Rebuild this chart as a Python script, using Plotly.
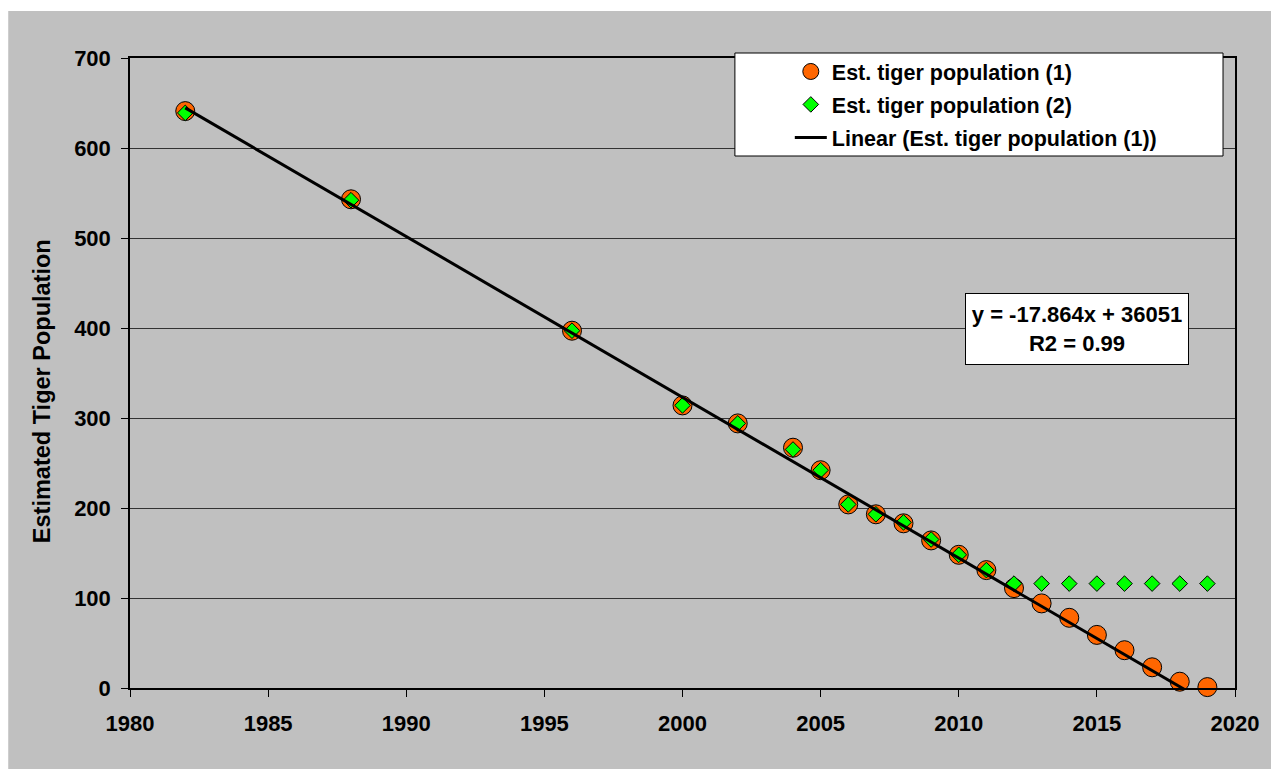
import plotly.graph_objects as go

# Survey years and estimated tiger counts
years = [1982, 1988, 1996, 2000, 2002, 2004, 2005, 2006, 2007, 2008, 2009,
         2010, 2011, 2012, 2013, 2014, 2015, 2016, 2017, 2018, 2019]
pop_est1 = [641, 543, 397, 314, 294, 267, 242, 204, 193, 183, 164,
            148, 131, 111, 94, 78, 59, 42, 23, 7, 1]
pop_est2 = [639, 542, 397, 314, 294, 265, 242, 204, 193, 184, 165,
            148, 131, 116, 116, 116, 116, 116, 116, 116, 116]

# Linear trend of series (1) as stated on the chart
trend_slope = -17.864
trend_intercept = 36051
trend_years = [years[0], years[-1]]
trend_values = [trend_slope * x + trend_intercept for x in trend_years]

x_ticks = [1980, 1985, 1990, 1995, 2000, 2005, 2010, 2015, 2020]
y_ticks = [0, 100, 200, 300, 400, 500, 600, 700]

FONT = "Liberation Sans, Arial, sans-serif"
GRAY = "#C0C0C0"

W, H = 1271, 769
ML, MR, MT, MB = 130, 34, 58, 81
PW, PH = W - ML - MR, H - MT - MB


def px_x(p):
    return (p - ML) / PW


def px_y(p):
    return (H - MB - p) / PH


fig = go.Figure()

fig.add_trace(go.Scatter(
    x=years, y=pop_est1, mode="markers", name="Est. tiger population (1)",
    legendgroup="a", cliponaxis=False,
    marker=dict(symbol="circle", size=19, color="#FF6600",
                line=dict(color="black", width=1)),
))
fig.add_trace(go.Scatter(
    x=years, y=pop_est2, mode="markers", name="Est. tiger population (2)",
    legendgroup="b", cliponaxis=False,
    marker=dict(symbol="diamond", size=12, color="#00FF00",
                line=dict(color="black", width=1)),
))
fig.add_trace(go.Scatter(
    x=trend_years, y=trend_values, mode="lines",
    name="Linear (Est. tiger population (1))", legendgroup="c",
    line=dict(color="black", width=3),
))

axis_font = dict(family=FONT, size=22, color="black", weight="bold")

fig.update_xaxes(
    range=[1980, 2020], tickvals=x_ticks, ticks="outside", ticklen=7,
    tickcolor="black", tickwidth=1, tickfont=axis_font,
    ticklabelstandoff=8,
    showline=True, linecolor="black", linewidth=1.5, mirror=True,
    showgrid=False, zeroline=False,
)
fig.update_yaxes(
    range=[0, 700], tickvals=y_ticks, ticks="outside", ticklen=7,
    tickcolor="black", tickwidth=1, tickfont=axis_font,
    ticklabelstandoff=6,
    showline=True, linecolor="black", linewidth=1.5, mirror=True,
    showgrid=True, gridcolor="#333333", gridwidth=1, zeroline=False,
)

shapes = [
    # gray chart area
    dict(type="rect", xref="paper", yref="paper", layer="below",
         x0=px_x(8), x1=px_x(W + 20), y0=px_y(H + 20), y1=px_y(11),
         fillcolor=GRAY, line=dict(width=0)),
    # legend frame
    dict(type="rect", xref="paper", yref="paper", layer="above",
         x0=px_x(736), x1=px_x(1225), y0=px_y(156), y1=px_y(53),
         fillcolor="white", line=dict(color="black", width=1)),
]

annotations = [
    dict(text="Estimated Tiger Population", xref="paper", yref="paper",
         x=px_x(42), y=px_y(391), textangle=-90, showarrow=False,
         xanchor="center", yanchor="middle",
         font=dict(family=FONT, size=23.5, color="black", weight="bold")),
    dict(text="y = -17.864x + 36051<br>R2 = 0.99", xref="paper", yref="paper",
         x=px_x(1079), y=px_y(328.5), showarrow=False,
         xanchor="center", yanchor="middle", align="center",
         width=216, height=64, borderpad=3,
         bgcolor="white", bordercolor="black", borderwidth=1,
         font=dict(family=FONT, size=22, color="black", weight="bold")),
]

fig.update_layout(
    width=W, height=H,
    margin=dict(l=ML, r=MR, t=MT, b=MB),
    paper_bgcolor="white", plot_bgcolor=GRAY,
    shapes=shapes, annotations=annotations,
    showlegend=True,
    legend=dict(
        x=px_x(791), y=px_y(51), xanchor="left", yanchor="top",
        bgcolor="rgba(0,0,0,0)", borderwidth=0, itemwidth=32,
        tracegroupgap=2,
        font=dict(family=FONT, size=21.5, color="black", weight="bold"),
    ),
)

fig.write_html("out.html")
